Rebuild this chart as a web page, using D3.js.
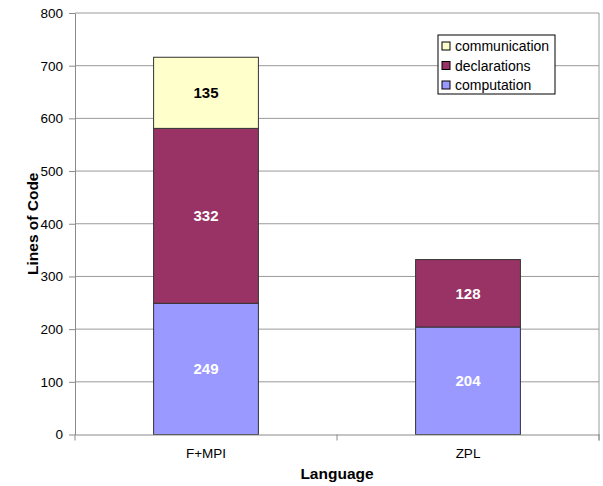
<!DOCTYPE html>
<html>
<head>
<meta charset="utf-8">
<script src="https://cdn.jsdelivr.net/npm/d3@7"></script>
<style>
  html, body { margin: 0; padding: 0; background: #fff; }
  svg { display: block; font-family: Arial, "Liberation Sans", sans-serif; }
</style>
</head>
<body>
<svg id="chart" width="603" height="486"></svg>
<script>
// Lines of code per language, split by kind of code
const languages = ["F+MPI", "ZPL"];
const seriesNames = ["computation", "declarations", "communication"];
const computation = [249, 204];
const declarations = [332, 128];
const communication = [135, 0];
const yTicks = [0, 100, 200, 300, 400, 500, 600, 700, 800];

const colors = { computation: "#9999FF", declarations: "#993366", communication: "#FFFFCC" };
const labelColors = { computation: "#FFFFFF", declarations: "#FFFFFF", communication: "#000000" };
const FONT = "Arial, 'Liberation Sans', sans-serif";

const svg = d3.select("#chart");
const plot = { left: 75, right: 599, top: 13, bottom: 434.5 };

const x = d3.scaleBand().domain(languages).range([plot.left, plot.right]).paddingInner(0.6).paddingOuter(0.3);
const xOuter = d3.scaleBand().domain(languages).range([plot.left, plot.right]);
const y = d3.scaleLinear().domain([0, 800]).range([plot.bottom, plot.top]);

// Gridlines
svg.append("g").selectAll("line").data(yTicks.filter(d => d > 0)).join("line")
  .attr("x1", plot.left).attr("x2", plot.right)
  .attr("y1", d => y(d)).attr("y2", d => y(d))
  .attr("stroke", "#9a9a9a").attr("stroke-width", 1);

// Right frame edge
svg.append("line").attr("x1", plot.right).attr("x2", plot.right)
  .attr("y1", plot.top).attr("y2", plot.bottom + 6)
  .attr("stroke", "#9a9a9a");

// Stacked bars
const rows = languages.map((lang, i) => ({
  lang, computation: computation[i], declarations: declarations[i], communication: communication[i]
}));
const stacked = d3.stack().keys(seriesNames)(rows);

const layers = svg.append("g").selectAll("g").data(stacked).join("g");
layers.selectAll("rect").data(d => d.map(v => ({ key: d.key, v }))).join("rect")
  .filter(d => d.v[1] - d.v[0] > 0)
  .attr("x", d => x(d.v.data.lang))
  .attr("width", x.bandwidth())
  .attr("y", d => y(d.v[1]))
  .attr("height", d => y(d.v[0]) - y(d.v[1]))
  .attr("fill", d => colors[d.key])
  .attr("stroke", "#333")
  .attr("stroke-width", 1);

// Value labels
layers.selectAll("text").data(d => d.map(v => ({ key: d.key, v }))).join("text")
  .filter(d => d.v[1] - d.v[0] > 0)
  .attr("x", d => x(d.v.data.lang) + x.bandwidth() / 2)
  .attr("y", d => (y(d.v[0]) + y(d.v[1])) / 2)
  .attr("dy", "0.36em")
  .attr("text-anchor", "middle")
  .attr("font-size", 15).attr("font-weight", "bold")
  .attr("fill", d => labelColors[d.key])
  .text(d => d.v[1] - d.v[0]);

// Y axis
const yAxis = svg.append("g").attr("transform", `translate(${plot.left},0)`)
  .call(d3.axisLeft(y).tickValues(yTicks).tickSize(6).tickSizeOuter(0).tickPadding(6));
yAxis.select(".domain").attr("stroke", "#8a8a8a");
yAxis.selectAll(".tick line").attr("stroke", "#8a8a8a");
yAxis.selectAll("text").attr("font-size", 13.5).attr("fill", "#000").attr("font-family", FONT);

// X axis
const xAxis = svg.append("g").attr("transform", `translate(0,${plot.bottom})`)
  .call(d3.axisBottom(xOuter).tickSize(0).tickPadding(14));
xAxis.select(".domain").attr("stroke", "#8a8a8a");
xAxis.selectAll("text").attr("font-size", 13.5).attr("fill", "#000").attr("font-family", FONT);
// category separators
svg.append("g").selectAll("line").data([plot.left, xOuter(languages[1]), plot.right]).join("line")
  .attr("x1", d => d).attr("x2", d => d)
  .attr("y1", plot.bottom).attr("y2", plot.bottom + 6)
  .attr("stroke", "#8a8a8a");

// Axis titles
svg.append("text")
  .attr("transform", `translate(38,${(plot.top + plot.bottom) / 2}) rotate(-90)`)
  .attr("text-anchor", "middle").attr("font-size", 15.5).attr("font-weight", "bold")
  .text("Lines of Code");
svg.append("text")
  .attr("x", (plot.left + plot.right) / 2).attr("y", 479)
  .attr("text-anchor", "middle").attr("font-size", 15.5).attr("font-weight", "bold")
  .text("Language");

// Legend
const legendOrder = ["communication", "declarations", "computation"];
const legend = svg.append("g").attr("transform", "translate(438,35)");
legend.append("rect").attr("width", 117).attr("height", 59)
  .attr("fill", "#fff").attr("stroke", "#000").attr("stroke-width", 1);
const item = legend.selectAll("g").data(legendOrder).join("g")
  .attr("transform", (d, i) => `translate(4,${7 + i * 19.5})`);
item.append("rect").attr("width", 8).attr("height", 8)
  .attr("fill", d => colors[d]).attr("stroke", "#000");
item.append("text").attr("x", 13).attr("y", 4).attr("dy", "0.36em")
  .attr("font-size", 14).attr("fill", "#000").text(d => d);
</script>
</body>
</html>
